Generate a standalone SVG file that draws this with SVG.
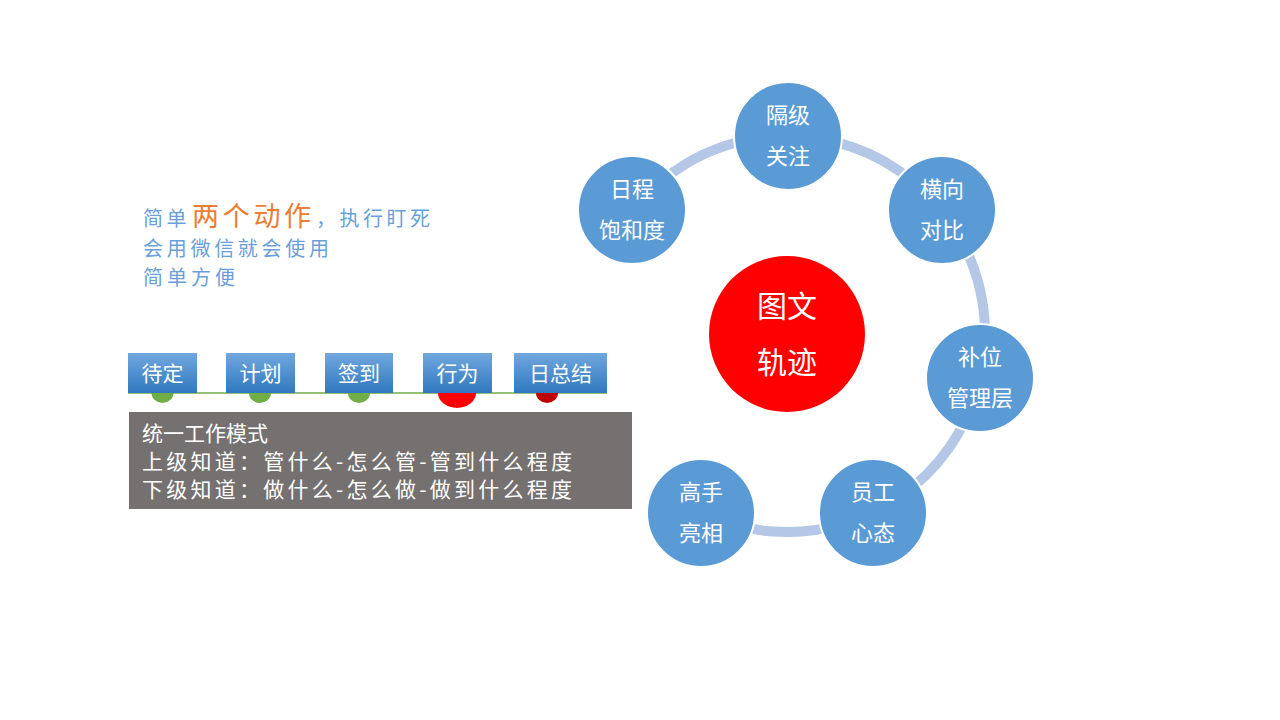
<svg xmlns="http://www.w3.org/2000/svg" width="1280" height="720" viewBox="0 0 1280 720">
<defs>
<linearGradient id="btn" x1="0" y1="0" x2="0" y2="1">
<stop offset="0" stop-color="#71A8DE"/>
<stop offset="1" stop-color="#2F78C0"/>
</linearGradient>
<style>
.cj{font-family:"Noto Sans CJK SC","Noto Sans",sans-serif}
.node{fill:#5B9BD5;stroke:#FFFFFF;stroke-width:2}
.nt{fill:#FFFFFF;font-size:22px;text-anchor:middle}
.bt{fill:#FFFFFF;font-size:21px;text-anchor:middle}
.btn{fill:url(#btn)}
.blue{fill:#6A9FDB;font-size:20px}
.gt{fill:#FFFFFF;font-size:21px}
</style>
</defs>
<rect width="1280" height="720" fill="#FFFFFF"/>

<g id="connectors">
<path d="M632.5 210.2 A198 198 0 1 1 701.1 512.4" fill="none" stroke="#B4C7E7" stroke-width="10"/>
</g>

<g id="center">
<circle cx="787" cy="334" r="78" fill="#FF0000"/>
<text class="cj" x="787" y="317" fill="#FFFFFF" font-size="30" text-anchor="middle">图文</text>
<text class="cj" x="787" y="373" fill="#FFFFFF" font-size="30" text-anchor="middle">轨迹</text>
</g>

<g id="n-gejiguanzhu">
<circle class="node" cx="788" cy="136" r="54"/>
<text class="cj nt" x="788" y="123">隔级</text>
<text class="cj nt" x="788" y="164">关注</text>
</g>
<g id="n-hengxiangduibi">
<circle class="node" cx="942" cy="210" r="54"/>
<text class="cj nt" x="942" y="197">横向</text>
<text class="cj nt" x="942" y="238">对比</text>
</g>
<g id="n-buweiguanliceng">
<circle class="node" cx="980" cy="378" r="54"/>
<text class="cj nt" x="980" y="365">补位</text>
<text class="cj nt" x="980" y="406">管理层</text>
</g>
<g id="n-yuangongxintai">
<circle class="node" cx="873" cy="513" r="54"/>
<text class="cj nt" x="873" y="500">员工</text>
<text class="cj nt" x="873" y="541">心态</text>
</g>
<g id="n-gaoshouliangxiang">
<circle class="node" cx="701" cy="513" r="54"/>
<text class="cj nt" x="701" y="500">高手</text>
<text class="cj nt" x="701" y="541">亮相</text>
</g>
<g id="n-richengbaohedu">
<circle class="node" cx="632" cy="210" r="54"/>
<text class="cj nt" x="632" y="197">日程</text>
<text class="cj nt" x="632" y="238">饱和度</text>
</g>

<g id="intro-text">
<text class="cj" y="226"><tspan x="143" fill="#6A9FDB" font-size="20" letter-spacing="3.5">简单</tspan><tspan x="192" fill="#ED7D31" font-size="27" letter-spacing="3.7">两个动作</tspan><tspan x="316" fill="#6A9FDB" font-size="20" letter-spacing="3.5">，执行盯死</tspan></text>
<text class="cj blue" x="143" y="256" textLength="186" lengthAdjust="spacing">会用微信就会使用</text>
<text class="cj blue" x="143" y="285" textLength="92" lengthAdjust="spacing">简单方便</text>
</g>

<g id="timeline">
<line x1="128" y1="393" x2="607" y2="393" stroke="#70AD47" stroke-width="1.5"/>
<path d="M151.5 393 A11 10 0 0 0 173.5 393 Z" fill="#70AD47"/>
<path d="M249 393 A11 10 0 0 0 271 393 Z" fill="#70AD47"/>
<path d="M348 393 A11 10 0 0 0 370 393 Z" fill="#70AD47"/>
<path d="M438 393 A19 15 0 0 0 476 393 Z" fill="#FF0000"/>
<path d="M536 393 A11 10 0 0 0 558 393 Z" fill="#C00000"/>
</g>

<g id="b-daiding">
<rect class="btn" x="128" y="353" width="69" height="40"/>
<text class="cj bt" x="162.5" y="381">待定</text>
</g>
<g id="b-jihua">
<rect class="btn" x="226" y="353" width="69" height="40"/>
<text class="cj bt" x="260.5" y="381">计划</text>
</g>
<g id="b-qiandao">
<rect class="btn" x="325" y="353" width="68" height="40"/>
<text class="cj bt" x="359" y="381">签到</text>
</g>
<g id="b-xingwei">
<rect class="btn" x="423" y="353" width="69" height="40"/>
<text class="cj bt" x="457.5" y="381">行为</text>
</g>
<g id="b-rizongjie">
<rect class="btn" x="514" y="353" width="93" height="40"/>
<text class="cj bt" x="560.5" y="381">日总结</text>
</g>

<g id="mode-box">
<rect x="129" y="412" width="503" height="97" fill="#767171"/>
<text class="cj gt" x="142" y="441">统一工作模式</text>
<text class="cj gt" x="142" y="469" textLength="430" lengthAdjust="spacing">上级知道：管什么-怎么管-管到什么程度</text>
<text class="cj gt" x="142" y="497" textLength="430" lengthAdjust="spacing">下级知道：做什么-怎么做-做到什么程度</text>
</g>
</svg>
